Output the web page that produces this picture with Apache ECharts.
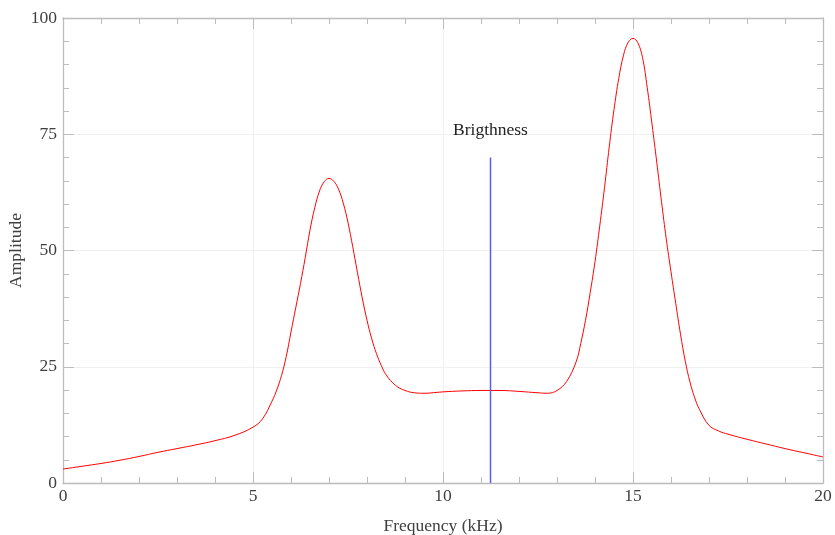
<!DOCTYPE html>
<html>
<head>
<meta charset="utf-8">
<script src="https://cdn.jsdelivr.net/npm/echarts@6/dist/echarts.min.js"></script>
<style>html,body{margin:0;padding:0;background:#fff}#c{width:835px;height:535px}</style>
</head>
<body>
<div id="c"></div>
<script>
// Frequency (kHz) samples and amplitude
const freq = [0,0.5,1,1.5,2,2.5,3,3.5,4,4.5,5,5.25,5.5,5.625,5.75,5.875,6,6.125,6.25,6.375,6.5,6.625,6.75,6.875,7,7.125,7.25,7.375,7.5,7.625,7.75,7.875,8,8.125,8.25,8.375,8.5,8.75,9,9.25,9.5,10,10.5,11,11.5,12,12.5,12.75,13,13.25,13.5,13.625,13.75,13.875,14,14.125,14.25,14.375,14.5,14.625,14.75,14.875,15,15.125,15.25,15.375,15.5,15.625,15.75,15.875,16,16.125,16.25,16.375,16.5,16.625,16.75,17,17.25,17.5,18,18.5,19,19.5,20];
const amplitude = [3.0,3.6,4.2,4.9,5.7,6.6,7.4,8.2,9.1,10.2,12.0,13.8,17.6,20.0,23.1,27.2,32.5,37.7,42.9,48.5,54.4,59.2,62.8,64.8,65.5,64.9,63.2,60.2,56.0,50.8,45.2,39.8,35.0,31.0,27.8,25.3,23.3,21.0,19.9,19.4,19.3,19.6,19.8,19.9,19.9,19.7,19.4,19.3,19.9,21.8,26.0,30.0,35.0,41.0,47.6,55.3,63.5,72.3,80.3,87.0,92.0,94.8,95.6,94.7,91.5,85.0,77.2,69.0,60.5,52.5,45.4,38.6,32.0,26.2,21.7,18.3,15.8,12.4,11.2,10.5,9.4,8.4,7.4,6.5,5.6];
// Brightness marker
const markerX = [11.25, 11.25];
const markerY = [0, 70];
const markerLabel = 'Brigthness';
const xTicks = [0, 5, 10, 15, 20];
const yTicks = [0, 25, 50, 75, 100];

const FONT = 'Liberation Serif';
const TXT = '#404040';
const AX = '#bcbcbc';

const curve = freq.map((f, i) => [f, amplitude[i]]);
const marker = markerX.map((x, i) => ({
  value: [x, markerY[i]],
  label: {show: i === markerX.length - 1, formatter: markerLabel}
}));

function xAx(pos, labels) {
  return {
    type: 'value', position: pos, min: xTicks[0], max: xTicks[xTicks.length-1], interval: 5,
    name: labels ? 'Frequency (kHz)' : '', nameLocation: 'middle', nameGap: 34,
    nameTextStyle: {fontFamily: FONT, fontSize: 17.5, color: TXT},
    axisLine: {show: true, onZero: false, lineStyle: {color: AX, width: 1.3}},
    axisTick: {show: true, inside: true, length: 11, lineStyle: {color: AX}},
    minorTick: {show: true, splitNumber: 5, length: 6, lineStyle: {color: AX}},
    axisLabel: {show: labels, fontFamily: FONT, fontSize: 17.5, color: TXT, margin: 4},
    splitLine: {show: labels, lineStyle: {color: '#f0f0f0'}}
  };
}
function yAx(pos, labels) {
  return {
    type: 'value', position: pos, min: yTicks[0], max: yTicks[yTicks.length-1], interval: 25,
    name: labels ? 'Amplitude' : '', nameLocation: 'middle', nameGap: 38, nameRotate: 90,
    nameMoveOverlap: false,
    nameTextStyle: {fontFamily: FONT, fontSize: 17.5, color: TXT},
    axisLine: {show: true, onZero: false, lineStyle: {color: AX, width: 1.3}},
    axisTick: {show: true, inside: true, length: 11, lineStyle: {color: AX}},
    minorTick: {show: true, splitNumber: 5, length: 6, lineStyle: {color: AX}},
    axisLabel: {show: labels, fontFamily: FONT, fontSize: 17.5, color: TXT, margin: 6},
    splitLine: {show: labels, lineStyle: {color: '#f0f0f0'}}
  };
}

const chart = echarts.init(document.getElementById('c'), null, {renderer: 'canvas'});
chart.setOption({
  animation: false,
  grid: {left: 63, right: 12, top: 18, bottom: 52, containLabel: false, outerBoundsMode: 'none'},
  xAxis: [xAx('bottom', true), xAx('top', false)],
  yAxis: [yAx('left', true), yAx('right', false)],
  series: [
    {type: 'line', data: curve, smooth: 0.4, symbol: 'none', lineStyle: {color: '#ff0000', width: 1}, z: 3},
    {type: 'line', data: marker, symbol: 'circle', symbolSize: 0, showSymbol: true,
     lineStyle: {color: '#5c5cf5', width: 1.5}, itemStyle: {color: '#5c5cf5'}, z: 4,
     label: {position: 'top', distance: 18, fontFamily: FONT, fontSize: 17.5, color: '#222'}}
  ]
});
</script>
</body>
</html>
